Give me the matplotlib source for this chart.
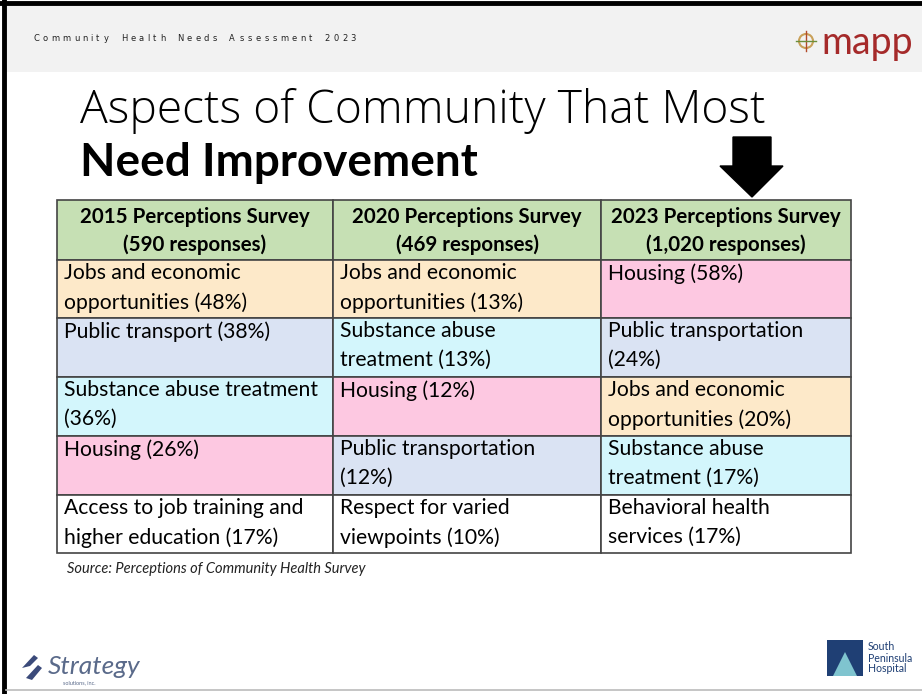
import matplotlib.pyplot as plt
from matplotlib.patches import Rectangle, Polygon, Circle
from matplotlib.textpath import TextPath
from matplotlib.font_manager import FontProperties

# Datos de la tabla
encabezados = ["2015 Perceptions Survey\n(590 responses)",
               "2020 Perceptions Survey\n(469 responses)",
               "2023 Perceptions Survey\n(1,020 responses)"]

items_2015 = ["Jobs and economic\nopportunities (48%)",
              "Public transport (38%)",
              "Substance abuse treatment\n(36%)",
              "Housing (26%)",
              "Access to job training and\nhigher education (17%)"]
items_2020 = ["Jobs and economic\nopportunities (13%)",
              "Substance abuse\ntreatment (13%)",
              "Housing (12%)",
              "Public transportation\n(12%)",
              "Respect for varied\nviewpoints (10%)"]
items_2023 = ["Housing (58%)",
              "Public transportation\n(24%)",
              "Jobs and economic\nopportunities (20%)",
              "Substance abuse\ntreatment (17%)",
              "Behavioral health\nservices (17%)"]

cat_2015 = ["jobs", "transporte", "sustancias", "vivienda", "otro"]
cat_2020 = ["jobs", "sustancias", "vivienda", "transporte", "otro"]
cat_2023 = ["vivienda", "transporte", "jobs", "sustancias", "otro"]

colores = {"jobs": "#fde9c9", "transporte": "#dae3f3", "sustancias": "#d3f6fc",
           "vivienda": "#fdc8e1", "otro": "#ffffff", "header": "#c6e0b4"}

columnas = [items_2015, items_2020, items_2023]
categorias = [cat_2015, cat_2020, cat_2023]

# Geometria en pixeles
col_x = [57, 333, 601, 851]
fila_y = [200, 260, 318, 377, 436, 495, 553]

fig = plt.figure(figsize=(9.22, 6.94), dpi=100)
ax = fig.add_axes([0, 0, 1, 1])
ax.set_xlim(0, 922)
ax.set_ylim(694, 0)
ax.axis('off')

fuente = ['Lato', 'DejaVu Sans']

# Marco y banda superior
ax.add_patch(Rectangle((6, 5), 916, 67, facecolor='#f2f2f2', edgecolor='none'))
ax.plot([0, 922], [2.5, 2.5], color='black', lw=3.5)
ax.plot([4, 4], [0, 694], color='black', lw=3.5)
ax.plot([6, 922], [690, 690], color='#bbbbbb', lw=1.2)

# Encabezado con letras espaciadas
encabezado_slide = "Community Health Needs Assessment 2023"
fp = FontProperties(family='DejaVu Sans', size=6.0)
x = 33
for ch in encabezado_slide:
    ax.text(x, 38, ch, fontproperties=fp, va='center', ha='left', color='#222222')
    ancho = TextPath((0, 0), ch if ch != ' ' else 'n', prop=fp).get_extents().width * 100 / 72
    x += ancho + 4.6

# logo mapp
ax.text(821, 43, "mapp", fontsize=27, family=fuente, color='#a52a2a',
        va='center', ha='left')
ax.add_patch(Circle((806, 41), 7, facecolor='none', edgecolor='#c9a15a', lw=1.5))
ax.plot([806, 806], [31, 51], color='#b24a2a', lw=1)
ax.plot([796, 816], [41, 41], color='#6b8e3a', lw=1)

# Titulo
ax.text(80, 123, "Aspects of Community That Most", fontsize=33.3, family=['Open Sans', 'Lato'],
        fontweight='light', va='baseline', ha='left', color='black')
ax.text(80, 176, "Need Improvement", fontsize=33, family=fuente,
        fontweight='bold', va='baseline', ha='left', color='black')

# Flecha
ax.add_patch(Polygon([[733, 137], [771, 137], [771, 166], [783, 166],
                      [752, 197], [720, 166], [733, 166]],
                     closed=True, facecolor='black', edgecolor='black'))

# Tabla
for c in range(3):
    x0, x1 = col_x[c], col_x[c + 1]
    ax.add_patch(Rectangle((x0, fila_y[0]), x1 - x0, fila_y[1] - fila_y[0],
                           facecolor=colores['header'], edgecolor='#444444', lw=1.2))
    ax.text((x0 + x1) / 2, (fila_y[0] + fila_y[1]) / 2 + 1, encabezados[c],
            fontsize=14.8, family=fuente, fontweight='bold', ha='center',
            va='center', linespacing=1.5, color='black')
    for r in range(5):
        y0, y1 = fila_y[r + 1], fila_y[r + 2]
        ax.add_patch(Rectangle((x0, y0), x1 - x0, y1 - y0,
                               facecolor=colores[categorias[c][r]],
                               edgecolor='#444444', lw=1.2))
        ax.text(x0 + 7, y0 + 3, columnas[c][r], fontsize=15.2, family=fuente,
                ha='left', va='top', linespacing=1.55, color='black')

ax.text(67, 569, "Source: Perceptions of Community Health Survey", fontsize=10.5,
        family=fuente, style='italic', ha='left', va='center', color='#222222')

# Logos inferiores
ax.add_patch(Polygon([[22, 668], [34, 655], [38, 658], [30, 666]], closed=True,
                     facecolor='#3b4a7a', edgecolor='none'))
ax.add_patch(Polygon([[26, 678], [38, 665], [42, 668], [32, 680]], closed=True,
                     facecolor='#3b4a7a', edgecolor='none'))
ax.text(48, 667, "Strategy", fontsize=19, family=fuente, style='italic',
        color='#5a6a8a', ha='left', va='center')
ax.text(63, 683, "solutions, inc.", fontsize=4, family=fuente, color='#5a6a8a',
        ha='left', va='center')

ax.add_patch(Rectangle((827, 640), 36, 36, facecolor='#1f3f74', edgecolor='none'))
ax.add_patch(Polygon([[833, 676], [845, 652], [857, 676]], closed=True,
                     facecolor='#7fc4cf', edgecolor='none'))
ax.text(868, 658, "South\nPeninsula\nHospital", fontsize=7.6, family=fuente,
        color='#1f3f74', ha='left', va='center', linespacing=1.0)

fig.savefig('out.png', dpi=100)
